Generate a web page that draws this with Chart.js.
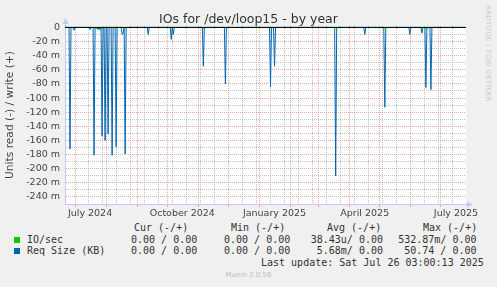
<!DOCTYPE html>
<html><head><meta charset="utf-8">
<script src="https://cdn.jsdelivr.net/npm/chart.js@4/dist/chart.umd.min.js"></script>
<style>
html,body{margin:0;padding:0;background:#f0f0f0;}
#wrap{position:relative;width:497px;height:287px;overflow:hidden;background:#f0f0f0;}
#cw{position:absolute;left:0;top:0;width:497px;height:222px;}
#title{position:absolute;left:0;top:11px;width:497px;text-align:center;font:12.5px "DejaVu Sans",sans-serif;line-height:15px;color:#333;}
#side{position:absolute;left:484px;top:5px;writing-mode:vertical-rl;font:7px "DejaVu Sans",sans-serif;color:#c8c8c8;letter-spacing:0.3px;}
.t{position:absolute;font-family:"DejaVu Sans Mono",monospace;font-size:10px;line-height:12px;color:#333;white-space:pre;}
.sq{position:absolute;width:6px;height:6px;}
#munin{position:absolute;left:0;width:497px;top:271px;text-align:center;font:7px "DejaVu Sans",sans-serif;color:#bbb;line-height:9px;}
</style></head>
<body>
<div id="wrap">
  <div id="cw"><canvas id="c"></canvas></div>
  <div id="title">IOs for /dev/loop15 - by year</div>
  <div id="side">RRDTOOL / TOBI OETIKER</div>
  <div id="legend"></div>
  <div id="munin">Munin 2.0.56</div>
</div>
<script>
// ---- data (days since 21 Jun 2024, one point per day) ----
const xMinDay = 0;
const xMaxDay = 400;
const readDays    = [5, 9, 25, 29, 33, 35, 37, 40, 43, 47, 51, 57, 58, 60, 83, 106, 108, 138, 160, 205, 209, 270, 299, 319, 344, 356, 360, 365];
const reqSizeRead = [-0.172, -0.004, -0.003, -0.181, -0.003, -0.003, -0.154, -0.160, -0.151, -0.181, -0.169, -0.010, -0.008, -0.179, -0.010, -0.017, -0.010, -0.055, -0.080, -0.084, -0.055, -0.210, -0.010, -0.113, -0.010, -0.008, -0.085, -0.088];
const ioDays = [31, 37, 59, 138, 206, 320, 356, 361];
const ioRead = [-0.002, -0.002, -0.002, -0.002, -0.002, -0.002, -0.002, -0.002];
const zeroLevel = [0, 0];

// ---- ticks ----
const monthStartDays = [10, 41, 72, 102, 133, 163, 194, 225, 253, 284, 314, 345, 375];
const biweekDays = [23, 37, 51, 65, 79, 93, 107, 121, 135, 149, 177, 191, 205, 219, 233, 247, 261, 275, 289, 303, 317, 331, 359, 373, 387];
const xLabelDays = [25, 117, 209, 299, 390];
const xLabels = ['July 2024', 'October 2024', 'January 2025', 'April 2025', 'July 2025'];
const yMajor = [0, -0.02, -0.04, -0.06, -0.08, -0.10, -0.12, -0.14, -0.16, -0.18, -0.20, -0.22, -0.24];
const yMinor = [-0.01, -0.03, -0.05, -0.07, -0.09, -0.11, -0.13, -0.15, -0.17, -0.19, -0.21, -0.23];
const yTickLabels = ['0', '-20 m', '-40 m', '-60 m', '-80 m', '-100 m', '-120 m', '-140 m', '-160 m', '-180 m', '-200 m', '-220 m', '-240 m'];
const yMin = -0.25, yMax = 0.002;

// ---- legend table ----
const legendNames = ['IO/sec', 'Req Size (KB)'];
const legendColors = ['#00cc00', '#0066b3'];
const curVals = ['0.00 / 0.00', '0.00 / 0.00'];
const minVals = ['0.00 / 0.00', '0.00 / 0.00'];
const avgVals = ['38.43u/ 0.00', '5.68m/ 0.00'];
const maxVals = ['532.87m/ 0.00', '50.74 / 0.00'];
const lastUpdate = 'Last update: Sat Jul 26 03:00:13 2025';

function daily(days, vals) {
  const arr = [];
  for (let d = xMinDay; d <= xMaxDay; d++) arr.push({x: d, y: 0});
  days.forEach((d, i) => { arr[d - xMinDay].y = vals[i]; });
  return arr;
}

const isMajorY = v => yMajor.some(m => Math.abs(m - v) < 1e-9);
const RED = 'rgba(228,130,130,0.7)';
const GRAY = 'rgba(175,175,175,0.75)';
const NONE = 'rgba(0,0,0,0)';
const AXIS = '#c4c8f4';

const decor = {
  id: 'decor',
  beforeDraw(chart) {
    const {ctx, chartArea: a} = chart;
    ctx.save();
    ctx.fillStyle = '#ffffff';
    ctx.fillRect(a.left, a.top, a.right - a.left, a.bottom - a.top);
    ctx.restore();
  },
  afterDraw(chart) {
    const {ctx, chartArea: a} = chart;
    ctx.save();
    ctx.fillStyle = AXIS;
    ctx.strokeStyle = AXIS;
    ctx.lineWidth = 1;
    const lx = Math.round(a.left) + 0.5, by = Math.round(a.bottom) + 0.5;
    ctx.beginPath(); ctx.moveTo(lx, a.top); ctx.lineTo(lx, a.top - 3); ctx.stroke();
    ctx.beginPath(); ctx.moveTo(lx - 3, a.top - 2); ctx.lineTo(lx + 3, a.top - 2); ctx.lineTo(lx, a.top - 8); ctx.closePath(); ctx.fill();
    ctx.beginPath(); ctx.moveTo(a.right, by); ctx.lineTo(a.right + 2, by); ctx.stroke();
    ctx.beginPath(); ctx.moveTo(a.right + 1, by - 3); ctx.lineTo(a.right + 1, by + 3); ctx.lineTo(a.right + 7, by); ctx.closePath(); ctx.fill();
    ctx.restore();
  }
};

new Chart(document.getElementById('c'), {
  type: 'line',
  data: {
    datasets: [
      {label: 'zero', data: [{x: xMinDay, y: zeroLevel[0]}, {x: xMaxDay, y: zeroLevel[1]}], borderColor: '#000000', borderWidth: 1, pointRadius: 0, order: 0},
      {label: 'IO/sec', data: daily(ioDays, ioRead), borderColor: '#00cc00', borderWidth: 1, pointRadius: 0, order: 1},
      {label: 'Req Size (KB)', data: daily(readDays, reqSizeRead), borderColor: '#0066b3', borderWidth: 1, pointRadius: 0, order: 2}
    ]
  },
  options: {
    responsive: true,
    maintainAspectRatio: false,
    animation: false,
    devicePixelRatio: 1,
    layout: {padding: {left: 0, right: 31, top: 26, bottom: 0}},
    plugins: {legend: {display: false}, tooltip: {enabled: false}, title: {display: false}},
    scales: {
      x: {
        type: 'linear', position: 'bottom', min: xMinDay, max: xMaxDay,
        afterBuildTicks: s => { s.ticks = monthStartDays.concat(biweekDays).concat(xLabelDays).sort((a, b) => a - b).map(v => ({value: v})); },
        afterFit: s => { s.height = 18; },
        ticks: {
          autoSkip: false, maxRotation: 0, minRotation: 0, padding: 1, color: '#444',
          font: {family: 'DejaVu Sans', size: 9.5},
          callback: v => { const i = xLabelDays.indexOf(v); return i >= 0 ? xLabels[i] : ''; }
        },
        grid: {
          color: c => monthStartDays.includes(c.tick.value) ? RED : (biweekDays.includes(c.tick.value) ? GRAY : NONE),
          tickColor: c => monthStartDays.includes(c.tick.value) ? RED : NONE,
          tickLength: 3, lineWidth: 1, drawTicks: true
        },
        border: {display: true, color: AXIS, dash: [1, 1]}
      },
      y: {
        type: 'linear', min: yMin, max: yMax,
        afterBuildTicks: s => { s.ticks = yMajor.concat(yMinor).sort((a, b) => a - b).map(v => ({value: v})); },
        afterFit: s => { s.width = 65; },
        ticks: {
          autoSkip: false, padding: 5, color: '#444',
          font: {family: 'DejaVu Sans', size: 9.5},
          callback: v => { const i = yMajor.findIndex(m => Math.abs(m - v) < 1e-9); return i >= 0 ? yTickLabels[i] : ''; }
        },
        grid: {
          color: c => Math.abs(c.tick.value) < 1e-9 ? NONE : (isMajorY(c.tick.value) ? RED : GRAY),
          drawTicks: false, lineWidth: 1
        },
        border: {display: true, color: AXIS, dash: [1, 1]},
        title: {display: true, text: 'Units read (-) / write (+)', color: '#444', font: {family: 'DejaVu Sans', size: 10.67}, padding: {top: 4, bottom: 0}}
      }
    }
  },
  plugins: [decor]
});

// legend table (HTML text)
const lg = document.getElementById('legend');
function put(txt, x, y) { const d = document.createElement('div'); d.className = 't'; d.textContent = txt; d.style.left = x + 'px'; d.style.top = y + 'px'; lg.appendChild(d); }
const CH = 6.02;
put('Cur (-/+)', 134, 222); put('Min (-/+)', 231, 222); put('Avg (-/+)', 327, 222); put('Max (-/+)', 423, 222);
const rowY = [233.5, 245];
legendNames.forEach((n, i) => {
  const sq = document.createElement('div'); sq.className = 'sq'; sq.style.background = legendColors[i];
  sq.style.left = '14px'; sq.style.top = (rowY[i] + 3) + 'px'; lg.appendChild(sq);
  put(n, 27, rowY[i]);
  put(curVals[i], 131, rowY[i]);
  put(minVals[i], 224, rowY[i]);
  put(avgVals[i], 383 - CH * avgVals[i].length, rowY[i]);
  put(maxVals[i], 476.5 - CH * maxVals[i].length, rowY[i]);
});
put(lastUpdate, 261, 257);
</script>
</body></html>
